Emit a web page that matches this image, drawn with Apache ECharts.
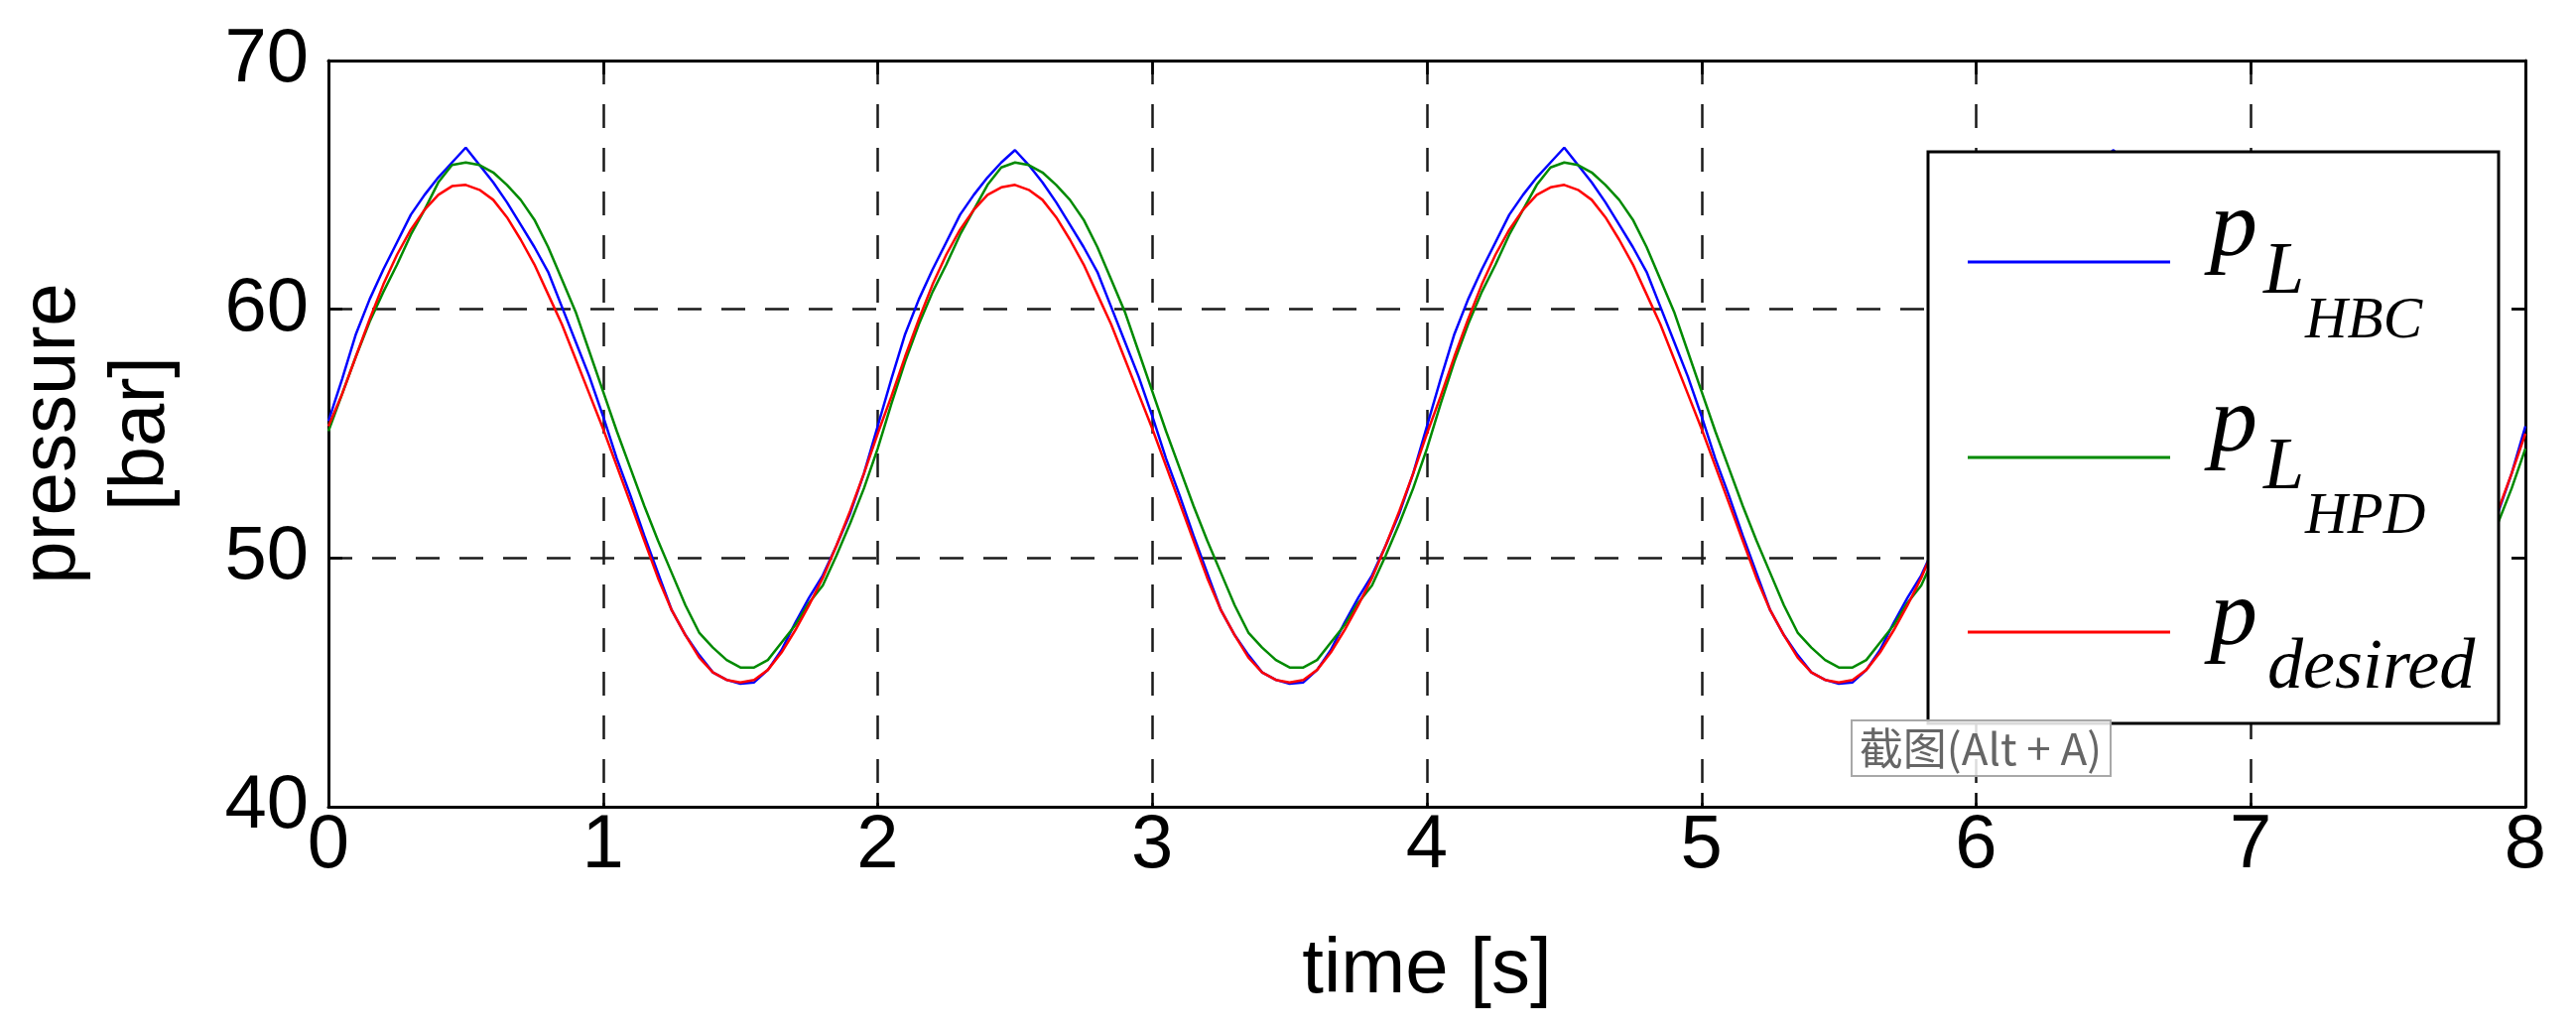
<!DOCTYPE html>
<html>
<head>
    <meta charset="utf-8">
    <title>pressure</title>
    <script src="https://cdn.jsdelivr.net/npm/echarts@6/dist/echarts.min.js"></script>
    <style>
        html, body { margin: 0; padding: 0; background: #fff; }
        #main { width: 2596px; height: 1040px; }
    </style>
</head>
<body>
    <div id="main"></div>
    <script type="text/javascript">
        // sample grid, 0.05 s
        var step = 0.05;
        var time = [];
        for (var i = 0; i <= 160; i++) {
            time.push(+(i * step).toFixed(2));
        }

        // values (bar)
        var hbc = [
            55.5, 57.2, 59.0, 60.4, 61.6, 62.7, 63.8, 64.6, 65.3, 65.9, 66.5, 65.8, 65.1, 64.3, 63.4, 62.5, 61.5, 60.1, 58.7, 57.3, 55.7, 54.0, 52.5, 50.9, 49.4, 47.9, 46.9, 46.1, 45.4, 45.1, 44.95, 45.0, 45.5, 46.3, 47.4, 48.4, 49.3, 50.5, 51.8, 53.4,
            55.3, 57.2, 59.0, 60.4, 61.6, 62.7, 63.8, 64.6, 65.3, 65.9, 66.4, 65.8, 65.1, 64.3, 63.4, 62.5, 61.5, 60.1, 58.7, 57.3, 55.7, 54.0, 52.5, 50.9, 49.4, 47.9, 46.9, 46.1, 45.4, 45.1, 44.95, 45.0, 45.5, 46.3, 47.4, 48.4, 49.3, 50.5, 51.8, 53.4,
            55.3, 57.2, 59.0, 60.4, 61.6, 62.7, 63.8, 64.6, 65.3, 65.9, 66.5, 65.8, 65.1, 64.3, 63.4, 62.5, 61.5, 60.1, 58.7, 57.3, 55.7, 54.0, 52.5, 50.9, 49.4, 47.9, 46.9, 46.1, 45.4, 45.1, 44.95, 45.0, 45.5, 46.3, 47.4, 48.4, 49.3, 50.5, 51.8, 53.4,
            55.3, 57.2, 59.0, 60.4, 61.6, 62.7, 63.8, 64.6, 65.3, 65.9, 66.4, 65.8, 65.1, 64.3, 63.4, 62.5, 61.5, 60.1, 58.7, 57.3, 55.7, 54.0, 52.5, 50.9, 49.4, 47.9, 46.9, 46.1, 45.4, 45.1, 44.95, 45.0, 45.5, 46.3, 47.4, 48.4, 49.3, 50.5, 51.8, 53.4,
            55.3
        ];
        var hpd = [
            55.1, 56.6, 58.1, 59.5, 60.7, 61.8, 63.0, 64.0, 65.1, 65.8, 65.9, 65.8, 65.5, 65.0, 64.4, 63.6, 62.5, 61.2, 59.9, 58.3, 56.7, 55.1, 53.6, 52.1, 50.7, 49.4, 48.1, 47.0, 46.4, 45.9, 45.6, 45.6, 45.9, 46.6, 47.3, 48.2, 48.9, 50.1, 51.4, 52.8,
            54.4, 56.2, 57.9, 59.4, 60.7, 61.8, 63.0, 64.0, 65.0, 65.7, 65.9, 65.8, 65.5, 65.0, 64.4, 63.6, 62.5, 61.2, 59.9, 58.3, 56.7, 55.1, 53.6, 52.1, 50.7, 49.4, 48.1, 47.0, 46.4, 45.9, 45.6, 45.6, 45.9, 46.6, 47.3, 48.2, 48.9, 50.1, 51.4, 52.8,
            54.4, 56.2, 57.9, 59.4, 60.7, 61.8, 63.0, 64.0, 65.0, 65.7, 65.9, 65.8, 65.5, 65.0, 64.4, 63.6, 62.5, 61.2, 59.9, 58.3, 56.7, 55.1, 53.6, 52.1, 50.7, 49.4, 48.1, 47.0, 46.4, 45.9, 45.6, 45.6, 45.9, 46.6, 47.3, 48.2, 48.9, 50.1, 51.4, 52.8,
            54.4, 56.2, 57.9, 59.4, 60.7, 61.8, 63.0, 64.0, 65.0, 65.7, 65.9, 65.8, 65.5, 65.0, 64.4, 63.6, 62.5, 61.2, 59.9, 58.3, 56.7, 55.1, 53.6, 52.1, 50.7, 49.4, 48.1, 47.0, 46.4, 45.9, 45.6, 45.6, 45.9, 46.6, 47.3, 48.2, 48.9, 50.1, 51.4, 52.8,
            54.4
        ];
        var desired = [
            55.3, 56.6, 58.1, 59.6, 61.0, 62.2, 63.2, 64.0, 64.6, 64.95, 65.0, 64.8, 64.4, 63.7, 62.8, 61.8, 60.6, 59.4, 58.0, 56.6, 55.2, 53.7, 52.2, 50.7, 49.2, 47.9, 46.9, 46.0, 45.4, 45.1, 45.0, 45.1, 45.5, 46.2, 47.1, 48.1, 49.2, 50.5, 51.9, 53.4,
            55.0, 56.5, 58.1, 59.6, 61.0, 62.2, 63.2, 64.0, 64.6, 64.9, 65.0, 64.8, 64.4, 63.7, 62.8, 61.8, 60.6, 59.4, 58.0, 56.6, 55.2, 53.7, 52.2, 50.7, 49.2, 47.9, 46.9, 46.0, 45.4, 45.1, 45.0, 45.1, 45.5, 46.2, 47.1, 48.1, 49.2, 50.5, 51.9, 53.4,
            55.0, 56.5, 58.1, 59.6, 61.0, 62.2, 63.2, 64.0, 64.6, 64.9, 65.0, 64.8, 64.4, 63.7, 62.8, 61.8, 60.6, 59.4, 58.0, 56.6, 55.2, 53.7, 52.2, 50.7, 49.2, 47.9, 46.9, 46.0, 45.4, 45.1, 45.0, 45.1, 45.5, 46.2, 47.1, 48.1, 49.2, 50.5, 51.9, 53.4,
            55.0, 56.5, 58.1, 59.6, 61.0, 62.2, 63.2, 64.0, 64.6, 64.9, 65.0, 64.8, 64.4, 63.7, 62.8, 61.8, 60.6, 59.4, 58.0, 56.6, 55.2, 53.7, 52.2, 50.7, 49.2, 47.9, 46.9, 46.0, 45.4, 45.1, 45.0, 45.1, 45.5, 46.2, 47.1, 48.1, 49.2, 50.5, 51.9, 53.4,
            55.0
        ];

        var seriesNames = ['pL_HBC', 'pL_HPD', 'p_desired'];
        var seriesColors = ['#0000ff', '#008a00', '#ff0000'];
        var xTicks = [0, 8, 1];     // min, max, interval
        var yTicks = [40, 70, 10];

        function pairs(values) {
            return values.map(function (v, k) { return [time[k], v]; });
        }

        var font = 'Liberation Sans';
        var gridDash = { color: '#1a1a1a', width: 2.5, type: [24, 20] };
        var frameLine = { show: true, onZero: false, lineStyle: { color: '#000', width: 3 } };
        var tickIn = { show: true, inside: true, length: 14, lineStyle: { color: '#000', width: 2.5 } };

        // legend: icons from the legend component, math-style labels drawn as text
        var legendLineY = [264, 461, 637];

        function legendFor(k) {
            return {
                data: [seriesNames[k]],
                left: 1983,
                top: legendLineY[k] - 1.5,
                padding: 0,
                icon: 'rect',
                itemWidth: 204,
                itemHeight: 3,
                selectedMode: false,
                z: 6,
                formatter: function () { return ''; },
                textStyle: { fontSize: 1 }
            };
        }

        // one italic serif piece, placed by its baseline
        function piece(txt, x, base, size) {
            return {
                type: 'text',
                z: 12,
                x: x,
                y: base - 0.3375 * size,
                style: {
                    text: txt,
                    fill: '#000',
                    font: 'italic ' + size + 'px "Liberation Serif"',
                    align: 'left',
                    verticalAlign: 'middle'
                }
            };
        }

        var labelPieces = [
            piece('p', 2227, 264, 96), piece('L', 2281, 301, 74), piece('HBC', 2323, 344, 59),
            piece('p', 2227, 461, 96), piece('L', 2281, 498, 74), piece('HPD', 2323, 541, 59),
            piece('p', 2227, 656, 96), piece('desired', 2285, 698, 72)
        ];

        var myChart = echarts.init(document.getElementById('main'));

        var option = {
            animation: false,
            backgroundColor: '#fff',
            grid: { left: 326, right: 51, top: 61, bottom: 227, containLabel: false },
            legend: [legendFor(0), legendFor(1), legendFor(2)],
            xAxis: [{
                type: 'value',
                min: xTicks[0], max: xTicks[1], interval: xTicks[2],
                position: 'bottom',
                name: 'time [s]',
                nameLocation: 'middle',
                nameGap: 120,
                nameTextStyle: { fontFamily: font, fontSize: 78, color: '#000', lineHeight: 90 },
                axisLine: frameLine,
                axisTick: tickIn,
                axisLabel: { fontFamily: font, fontSize: 76, color: '#000', margin: 2 },
                splitLine: { show: true, lineStyle: gridDash }
            }, {
                type: 'value',
                min: xTicks[0], max: xTicks[1], interval: xTicks[2],
                position: 'top',
                axisLine: frameLine,
                axisTick: tickIn,
                axisLabel: { show: false },
                splitLine: { show: false }
            }],
            yAxis: [{
                type: 'value',
                min: yTicks[0], max: yTicks[1], interval: yTicks[2],
                position: 'left',
                name: 'pressure\n[bar]',
                nameLocation: 'middle',
                nameRotate: 90,
                nameGap: 143,
                nameTextStyle: { fontFamily: font, fontSize: 78, color: '#000', lineHeight: 90 },
                axisLine: frameLine,
                axisTick: tickIn,
                axisLabel: { fontFamily: font, fontSize: 76, color: '#000', margin: 20 },
                splitLine: { show: true, lineStyle: gridDash }
            }, {
                type: 'value',
                min: yTicks[0], max: yTicks[1], interval: yTicks[2],
                position: 'right',
                axisLine: frameLine,
                axisTick: tickIn,
                axisLabel: { show: false },
                splitLine: { show: false }
            }],
            graphic: [{
                type: 'rect',
                z: 3,
                shape: { x: 1943, y: 153, width: 575, height: 576 },
                style: { fill: '#fff', stroke: '#000', lineWidth: 3 }
            }, {
                type: 'rect',
                z: 10,
                shape: { x: 1866, y: 726, width: 261, height: 56 },
                style: { fill: 'rgba(255,255,255,0.85)', stroke: '#a8a8a8', lineWidth: 2 }
            }, {
                type: 'text',
                z: 11,
                x: 1996, y: 754,
                style: {
                    text: '截图(Alt + A)',
                    fill: '#666',
                    font: '44px "Noto Sans CJK SC"',
                    align: 'center',
                    verticalAlign: 'middle'
                }
            }].concat(labelPieces),
            series: seriesNames.map(function (n, k) {
                return {
                    name: n,
                    type: 'line',
                    data: pairs([hbc, hpd, desired][k]),
                    showSymbol: false,
                    symbol: 'none',
                    color: seriesColors[k],
                    lineStyle: { color: seriesColors[k], width: 2.5 },
                    z: 2
                };
            })
        };

        myChart.setOption(option);
    </script>
</body>
</html>
